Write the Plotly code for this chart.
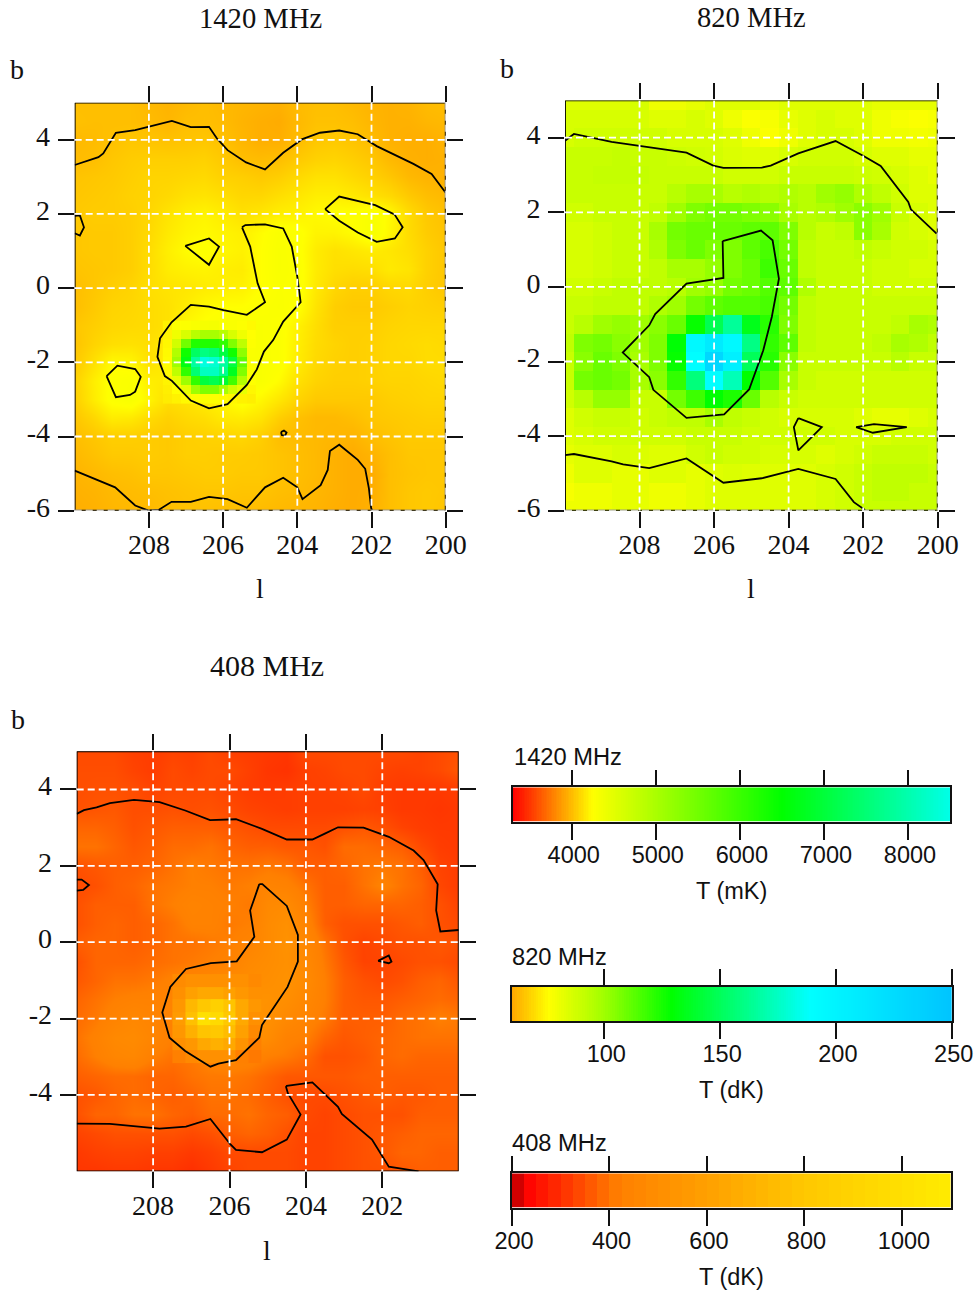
import plotly.graph_objects as go

W, H = 978, 1294
SERIF = "Liberation Serif"
SANS = "Liberation Sans"
INK = "#111111"

# ---------- sky grid ----------
l_half = [210 - 0.5 * i for i in range(21)]
b_half = [5 - 0.5 * j for j in range(23)]

# ---------- 1420 MHz, mK ----------
t1420 = [
 [4010,4010,4010,4010,3990,3970,3990,4010,3990,3980,3970,3960,4000,4010,4010,3990,3970,3960,3970,4000,4010],
 [4020,4010,4010,4010,4000,3980,4010,4010,4000,3970,3950,3940,3990,4020,4020,4010,3980,3960,3960,3980,3990],
 [3990,4000,4020,4040,4030,4020,4030,4040,4020,3980,3950,3950,4000,4040,4050,4030,4000,3960,3950,3950,3970],
 [4000,4010,4040,4060,4070,4070,4070,4080,4050,4010,4000,4010,4050,4080,4090,4070,4040,3990,3960,3950,3960],
 [4030,4040,4050,4070,4090,4090,4100,4110,4080,4070,4050,4070,4110,4140,4140,4110,4080,4040,3990,3970,3960],
 [4040,4050,4060,4080,4090,4110,4140,4150,4130,4100,4100,4130,4160,4190,4190,4170,4140,4110,4050,4010,3990],
 [4050,4060,4060,4070,4100,4150,4190,4210,4180,4140,4160,4190,4200,4230,4250,4260,4300,4230,4120,4050,4020],
 [4040,4050,4050,4070,4110,4170,4210,4230,4210,4190,4240,4290,4270,4210,4210,4240,4320,4220,4120,4060,4030],
 [4040,4050,4050,4070,4120,4190,4240,4270,4220,4200,4250,4300,4270,4180,4140,4160,4180,4160,4130,4080,4040],
 [4030,4040,4050,4070,4120,4180,4200,4210,4190,4180,4250,4300,4280,4180,4130,4120,4130,4170,4150,4080,4040],
 [4010,4040,4070,4090,4130,4150,4160,4180,4190,4200,4250,4290,4280,4170,4100,4070,4070,4100,4110,4070,4040],
 [4010,4050,4090,4100,4120,4140,4180,4230,4250,4250,4280,4300,4260,4150,4070,4050,4050,4070,4090,4080,4070],
 [4040,4070,4100,4110,4120,4140,4230,4260,4280,4300,4300,4280,4200,4130,4070,4070,4070,4090,4100,4100,4100],
 [4030,4090,4130,4140,4130,4180,4220,4260,4300,4300,4300,4280,4190,4120,4090,4070,4080,4100,4110,4120,4110],
 [4050,4140,4230,4220,4140,4180,4230,4300,4300,4300,4300,4280,4180,4110,4080,4070,4080,4100,4100,4120,4120],
 [4080,4190,4270,4290,4190,4170,4210,4250,4300,4300,4300,4240,4140,4090,4070,4070,4080,4090,4090,4100,4110],
 [4070,4180,4270,4300,4210,4130,4150,4190,4220,4280,4220,4160,4090,4050,4050,4050,4050,4070,4080,4090,4090],
 [4040,4100,4180,4170,4120,4080,4110,4130,4170,4180,4150,4070,4020,3990,3990,4010,4040,4050,4060,4070,4070],
 [4010,4040,4070,4070,4060,4050,4070,4080,4090,4100,4070,4010,4000,3990,3980,3970,4010,4030,4050,4050,4050],
 [3990,4020,4050,4050,4060,4050,4070,4070,4060,4060,4050,4030,4010,3990,3960,3940,3970,4010,4040,4040,4040],
 [3970,3990,4010,4020,4040,4040,4050,4060,4060,4050,4050,4030,4010,3990,3960,3940,3940,4010,4030,4040,4040],
 [3960,3970,3990,4000,4010,4020,4030,4040,4040,4030,4030,4010,4000,3980,3960,3940,3950,4010,4040,4050,4040],
 [3950,3960,3980,3990,3990,4010,4020,4020,4010,4010,4000,3990,3980,3970,3950,3940,3960,4010,4040,4050,4030],
]
# finer cells around the 1420 MHz source
l1420_src = [207.5,207.25,207.0,206.75,206.5,206.25,206.0,205.75,205.5,205.25]
b1420_src = [-1.0,-1.25,-1.5,-1.75,-2.0,-2.25,-2.5,-2.75,-3.0]
t1420_src = [
 [4200,4260,4280,4300,4330,4340,4300,4290,4270,4230],
 [4210,4380,4590,4880,5020,5020,4880,4590,4380,4250],
 [4220,4660,5500,6220,6220,6220,6080,5370,4820,4270],
 [4230,4940,6360,7330,7600,7470,7050,6360,5240,4290],
 [4240,5100,6640,7880,8430,8300,7880,7050,5640,4300],
 [4230,4820,6080,7470,8160,8160,7740,6780,5370,4280],
 [4210,4450,5100,6080,7050,7190,6910,5930,4940,4260],
 [4190,4250,4450,5100,5370,5370,5020,4660,4450,4220],
 [4180,4200,4230,4250,4270,4270,4240,4220,4200,4190],
]

# ---------- 820 MHz, dK ----------
t820 = [
 [84,84,84,84,86,80,80,82,84,84,84,82,84,84,84,84,84,82,82,82,82],
 [86,86,86,86,86,84,84,86,84,80,77,78,82,84,86,84,84,80,78,77,78],
 [86,88,88,88,88,88,86,86,86,84,80,77,80,84,86,86,84,80,80,79,80],
 [90,90,90,91,90,90,89,88,87,85,84,84,86,88,88,88,86,84,84,82,82],
 [90,90,91,91,91,90,90,90,90,88,88,88,90,90,90,90,89,88,86,84,82],
 [90,90,90,90,90,90,94,98,98,94,96,94,96,94,100,102,96,92,88,84,84],
 [88,88,90,90,90,92,100,106,108,108,106,104,98,94,96,100,104,100,90,86,84],
 [86,86,88,90,90,98,108,110,110,110,112,112,106,94,90,92,104,98,88,86,84],
 [86,86,88,90,90,96,106,110,106,106,112,116,108,92,90,90,92,90,88,88,86],
 [86,86,88,90,90,92,98,98,102,106,110,118,110,92,90,90,90,88,88,86,86],
 [88,88,90,92,92,92,94,100,102,108,110,114,112,96,90,90,90,88,88,88,88],
 [90,90,92,92,92,96,100,108,112,114,114,116,108,92,90,90,90,90,90,90,90],
 [90,94,100,102,100,104,110,128,148,165,135,122,106,92,90,90,90,90,92,98,96],
 [92,106,108,104,100,106,130,195,210,195,160,120,112,92,90,90,90,92,98,96,92],
 [90,104,110,106,98,106,128,190,230,205,150,122,104,90,90,90,90,90,94,90,90],
 [90,108,110,108,98,104,120,158,190,172,129,114,98,90,88,88,88,88,88,88,88],
 [88,94,102,102,90,90,108,118,129,124,110,94,90,88,88,88,88,88,88,88,88],
 [84,88,90,90,88,90,92,92,98,92,90,88,86,86,86,86,84,82,82,84,86],
 [84,86,88,88,88,88,88,90,90,90,88,88,88,88,88,86,86,86,88,88,88],
 [82,84,84,86,85,84,84,88,90,88,88,86,86,86,84,86,88,90,90,90,88],
 [80,84,84,82,82,84,84,82,84,85,84,84,84,84,86,88,90,92,92,92,90],
 [78,80,80,82,82,80,80,82,84,84,84,84,84,84,86,88,90,92,92,90,90],
 [80,80,80,82,82,80,80,82,84,84,84,84,84,84,86,88,90,90,90,90,90],
]

# ---------- 408 MHz, dK ----------
t408 = [
 [340,340,340,325,320,330,325,340,325,320,315,310,340,340,340,340,340,340,330,340,350],
 [345,345,345,330,320,340,330,340,340,325,310,305,325,330,340,340,330,325,330,340,360],
 [345,350,350,345,330,340,340,340,330,320,315,320,325,325,330,340,320,315,315,315,320],
 [350,355,360,345,345,350,345,350,340,330,325,320,325,325,325,330,325,315,315,310,315],
 [380,380,370,350,360,370,370,370,360,350,340,340,340,340,350,360,350,330,320,315,315],
 [400,400,380,360,370,390,390,400,380,370,370,360,360,350,390,390,380,370,340,320,315],
 [350,360,370,370,380,400,420,410,400,400,410,400,370,370,380,400,410,400,370,330,320],
 [340,350,370,380,400,410,420,420,410,420,440,430,400,370,370,400,430,400,380,335,320],
 [350,370,370,370,400,420,440,430,420,410,470,480,420,370,370,380,380,380,370,350,330],
 [350,370,380,370,380,400,430,430,410,420,480,510,440,370,350,350,350,360,370,350,340],
 [370,380,380,370,380,400,400,410,420,440,480,520,460,400,350,330,340,350,350,360,350],
 [350,380,380,380,390,400,410,420,430,470,490,510,470,410,360,330,330,340,350,350,340],
 [360,380,400,400,410,430,440,460,480,490,500,520,480,420,370,350,340,350,370,380,360],
 [380,400,420,430,430,440,460,500,520,520,520,500,460,420,370,360,360,370,380,390,380],
 [390,410,440,460,440,430,480,520,540,540,510,470,440,410,370,370,370,390,400,420,410],
 [400,430,470,480,450,420,460,510,520,520,490,430,420,380,360,370,380,390,400,400,400],
 [390,420,450,460,420,400,410,440,450,440,420,410,390,350,350,360,380,390,380,380,380],
 [370,380,390,390,380,380,400,410,410,400,380,360,360,360,360,370,370,370,370,370,370],
 [350,360,380,390,380,370,380,400,400,390,370,350,340,340,350,360,370,360,360,370,370],
 [350,380,380,400,400,380,370,390,390,400,380,370,340,330,340,350,350,350,370,370,370],
 [330,340,350,350,350,350,340,350,370,380,370,350,330,330,340,350,360,370,380,380,380],
 [315,325,330,330,325,325,315,325,340,340,340,340,330,330,340,350,360,380,380,370,370],
 [310,310,315,315,310,310,300,315,330,340,340,340,330,330,340,350,350,360,370,370,370],
]
l408_src = [207.33,207.0,206.67,206.33,206.0,205.67,205.33]
b408_src = [-1.0,-1.33,-1.67,-2.0,-2.33,-2.67,-3.0]
t408_src = [
 [480,510,510,510,510,510,470],
 [510,600,640,640,600,550,510],
 [550,720,800,870,780,640,550],
 [570,760,1000,950,800,640,510],
 [550,680,780,800,740,600,470],
 [510,550,640,680,640,530,420],
 [420,470,510,510,510,420,410],
]

# ---------- contours: (l, b) ----------
c1420 = [
 ([210,209.36,209.23,208.89,208.37,207.38,206.87,206.38,206.17,205.88,205.38,204.87,204.38,203.88,203.39,202.87,202.37,201.86,200.87,200.38,200],
  [3.32,3.53,3.63,4.19,4.26,4.51,4.34,4.35,4.04,3.72,3.39,3.20,3.65,4.01,4.19,4.25,4.15,3.83,3.35,3.08,2.57]),
 ([210,209.86,209.75,209.86,210],[1.95,1.96,1.64,1.42,1.48]),
 ([203.25,202.87,201.90,201.38,201.16,201.37,201.86,202.37,202.87,203.25],
  [2.13,2.47,2.24,1.99,1.64,1.34,1.25,1.50,1.82,2.13]),
 ([207.02,206.38,206.11,206.38,207.02],[1.14,1.34,1.12,0.63,1.14]),
 ([205.49,205.40,204.87,204.38,204.15,204.00,203.91,204.38,204.65,204.90,205.09,205.36,205.88,206.38,206.87,207.38,207.57,207.77,207.70,207.39,206.87,206.38,205.99,205.36,204.87,205.07,205.27,205.49],
  [1.64,1.70,1.72,1.61,1.12,0.31,-0.38,-0.90,-1.40,-1.71,-2.19,-2.61,-3.13,-3.24,-3.03,-2.50,-2.37,-1.85,-1.35,-0.92,-0.45,-0.50,-0.59,-0.72,-0.38,0.13,1.12,1.64]),
 ([209.14,208.85,208.37,208.22,208.37,208.51,208.89,209.14],[-2.37,-2.09,-2.18,-2.39,-2.79,-2.88,-2.94,-2.37]),
 ([204.44,204.36,204.29,204.33,204.42,204.44],[-3.88,-3.84,-3.89,-3.98,-3.96,-3.88]),
 ([210,208.91,208.37,208.01,207.74,207.39,206.87,206.38,205.88,205.36,204.87,204.38,204.00,203.86,203.37,203.18,203.12,202.87,202.37,202.17,202.07,202.01,201.98],
  [-4.92,-5.37,-5.86,-6,-5.98,-5.76,-5.76,-5.63,-5.69,-5.92,-5.37,-5.11,-5.37,-5.69,-5.31,-4.90,-4.39,-4.22,-4.63,-4.87,-5.40,-5.93,-6]),
]
c820 = [
 ([210,209.76,208.75,207.74,206.74,206.02,205.75,204.72,204.48,203.74,202.74,201.99,201.53,200.79,200.72,200.03],
  [3.92,4.10,3.89,3.74,3.60,3.25,3.19,3.20,3.25,3.58,3.91,3.51,3.24,2.28,2.08,1.43]),
 ([205.77,204.74,204.43,204.26,204.45,204.68,205.06,205.73,206.74,207.63,207.74,208.45,207.74,207.58,206.74,205.75,205.77],
  [1.23,1.51,1.25,0.22,-0.80,-1.70,-2.75,-3.42,-3.51,-2.76,-2.42,-1.76,-1.03,-0.73,0.09,0.24,1.23]),
 ([203.74,203.11,203.74,203.86,203.74],[-3.52,-3.76,-4.38,-3.76,-3.52]),
 ([202.19,201.71,200.83,201.74,202.19],[-3.76,-3.68,-3.76,-3.91,-3.76]),
 ([210,209.76,208.75,208.44,207.74,206.74,205.75,204.72,203.74,202.74,202.25,201.95],
  [-4.51,-4.48,-4.68,-4.76,-4.86,-4.60,-5.25,-5.13,-4.88,-5.15,-5.77,-5.98]),
]
c408 = [
 ([210,209.81,209.48,209.13,208.50,207.83,207.16,206.51,205.83,205.15,204.50,203.83,203.49,203.16,202.49,201.83,201.18,200.92,200.55,200.59,200.48,200],
  [3.36,3.46,3.53,3.64,3.73,3.67,3.45,3.20,3.22,2.97,2.69,2.69,2.85,3.01,3.00,2.76,2.40,2.15,1.52,0.83,0.28,0.32]),
 ([210,209.87,209.68,209.83,210],[1.64,1.64,1.50,1.37,1.35]),
 ([205.22,205.14,204.50,204.21,204.21,204.48,205.15,205.22,205.83,206.29,206.50,207.16,207.57,207.76,207.55,207.14,206.49,205.81,205.35,205.46,205.22],
  [1.52,1.52,0.95,0.19,-0.51,-1.17,-2.17,-2.50,-3.09,-3.18,-3.26,-2.85,-2.50,-1.84,-1.17,-0.70,-0.55,-0.50,0.14,0.83,1.52]),
 ([202.11,201.83,201.76,201.83,202.11],[-0.49,-0.35,-0.51,-0.55,-0.49]),
 ([210,209.13,207.83,207.14,206.50,205.98,205.83,205.15,204.50,204.14,204.47,204.52,204.50,203.83,203.16,203.06,202.27,201.83,201.05],
  [-4.75,-4.76,-4.88,-4.83,-4.63,-5.29,-5.44,-5.50,-5.17,-4.51,-3.96,-3.79,-3.76,-3.67,-4.31,-4.50,-5.17,-5.88,-6]),
]

# ---------- ticks ----------
l_ticks_full = [208,206,204,202,200]
b_ticks_full = [4,2,0,-2,-4,-6]
b_text_full = ["4","2","0","-2","-4","-6"]
l_ticks_408 = [208,206,204,202]
b_ticks_408 = [4,2,0,-2,-4]
b_text_408 = ["4","2","0","-2","-4"]

# ---------- colour scales ----------
stops_1420 = [(3300,"#ff0000"),(4250,"#ffff00"),(6500,"#00ff00"),(8500,"#00ffe8")]
stops_820 = [(60,"#ffa500"),(76,"#ffff00"),(100,"#a0ff00"),(129,"#00ff00"),(189,"#00ffff"),(250,"#00c4ff")]
stops_408 = [(200,"#b00000"),(230,"#ff0000"),(420,"#ff8000"),(600,"#ffa000"),(800,"#ffc800"),(1000,"#ffe000"),(1100,"#ffec00")]

bar_ticks_1420 = [4000,5000,6000,7000,8000]
bar_ticks_820 = [100,150,200,250]
bar_ticks_408 = [200,400,600,800,1000]
bar_z_1420 = list(range(3300,8520,20))
bar_z_820 = list(range(60,251,1))
bar_z_408 = list(range(212,1112,25))


def cscale(stops):
    a, b = stops[0][0], stops[-1][0]
    return [[(v - a) / (b - a), c] for v, c in stops]


def dom_x(p0, p1):
    return [p0 / W, p1 / W]


def dom_y(p0, p1):
    return [1 - p1 / H, 1 - p0 / H]


fig = go.Figure()
layout = {}
TICK = dict(ticks="outside", ticklen=16, tickwidth=1.5, tickcolor=INK, showgrid=False,
            zeroline=False, automargin=False)
WHITE_DASH = dict(color="white", width=1.8, dash="7px,4px")


def add_panel(n, px, py, z, scale, contours, lt, bt, btxt, smooth=None, patch=None):
    sx = "" if n == 1 else str(n)
    xa, ya = "x" + sx, "y" + sx
    a, b_ = scale[0][0], scale[-1][0]
    hm = dict(xaxis=xa, yaxis=ya, zmin=a, zmax=b_, colorscale=cscale(scale), showscale=False, hoverinfo="skip")
    fig.add_trace(go.Heatmap(x=l_half, y=b_half, z=z, zsmooth=smooth or False, **hm))
    if patch:
        fig.add_trace(go.Heatmap(x=patch[0], y=patch[1], z=patch[2], **hm))
    for cl, cb in contours:
        fig.add_trace(go.Scatter(x=cl, y=cb, mode="lines", xaxis=xa, yaxis=ya, showlegend=False, hoverinfo="skip",
                                 line=dict(color="black", width=1.8)))
    # frame
    fig.add_trace(go.Scatter(x=[210,200,200,210,210], y=[5,5,-6,-6,5], mode="lines", xaxis=xa, yaxis=ya, cliponaxis=False,
                             showlegend=False, hoverinfo="skip", line=dict(color="black", width=1.8)))
    # dashed white graticule, over the contours
    for v in lt:
        fig.add_trace(go.Scatter(x=[v, v], y=[5, -6], mode="lines", xaxis=xa, yaxis=ya, cliponaxis=False, showlegend=False,
                                 hoverinfo="skip", line=WHITE_DASH))
    for v in bt:
        fig.add_trace(go.Scatter(x=[210, 200], y=[v, v], mode="lines", xaxis=xa, yaxis=ya, cliponaxis=False, showlegend=False,
                                 hoverinfo="skip", line=WHITE_DASH))
    layout["xaxis" + sx] = dict(domain=dom_x(*px), range=[210, 200], anchor=ya, tickmode="array", tickvals=lt,
                                ticktext=[str(v) for v in lt], mirror="ticks", showline=False, ticklabelstandoff=-7,
                                tickfont=dict(family=SERIF, size=28, color=INK), **TICK)
    layout["yaxis" + sx] = dict(domain=dom_y(*py), range=[-6, 5], anchor=xa, tickmode="array", tickvals=bt,
                                ticktext=btxt, mirror="ticks", showline=False, ticklabelstandoff=2, ticklabelshift=-4,
                                tickfont=dict(family=SERIF, size=28, color=INK), **TICK)


def add_bar(n, px, py, zvals, scale, ticks, rng):
    sx = str(n)
    xa, ya = "x" + sx, "y" + sx
    fig.add_trace(go.Heatmap(x=zvals, y=[0], z=[zvals], xaxis=xa, yaxis=ya, zmin=scale[0][0], zmax=scale[-1][0],
                             colorscale=cscale(scale), showscale=False, hoverinfo="skip"))
    layout["xaxis" + sx] = dict(domain=dom_x(*px), range=rng, anchor=ya, tickmode="array", tickvals=ticks,
                                ticktext=[str(v) for v in ticks], mirror="ticks", showline=True, linecolor=INK, linewidth=1.6,
                                ticklabelstandoff=-5, ticklabelshift=2,
                                tickfont=dict(family=SANS, size=23.5, color=INK), **TICK)
    layout["yaxis" + sx] = dict(domain=dom_y(*py), range=[-0.5, 0.5], anchor=xa, showticklabels=False, ticks="", automargin=False,
                                showgrid=False, zeroline=False, mirror=True, showline=True, linecolor=INK, linewidth=1.6)


add_panel(1, (74.7, 445.7), (102.7, 510.7), t1420, stops_1420, c1420, l_ticks_full, b_ticks_full, b_text_full,
          smooth="best", patch=(l1420_src, b1420_src, t1420_src))
add_panel(2, (565, 937.7), (100.4, 510.7), t820, stops_820, c820, l_ticks_full, b_ticks_full, b_text_full)
add_panel(3, (76.7, 458.7), (751.3, 1171.3), t408, stops_408, c408, l_ticks_408, b_ticks_408, b_text_408,
          smooth="best", patch=(l408_src, b408_src, t408_src))
add_bar(4, (512.7, 950), (787.3, 821.7), bar_z_1420, stops_1420, bar_ticks_1420, [3298, 8500])
add_bar(5, (511.7, 951.7), (987, 1021), bar_z_820, stops_820, bar_ticks_820, [60, 250])
add_bar(6, (512, 950.7), (1173.3, 1207.7), bar_z_408, stops_408, bar_ticks_408, [200, 1100])


def text(t, x, y, family=SERIF, size=28, anchor="center"):
    return dict(text=t, x=x / W, y=1 - y / H, xref="paper", yref="paper", xanchor=anchor, yanchor="middle",
                showarrow=False, font=dict(family=family, size=size, color=INK))


annotations = [
    text("1420 MHz", 260, 19, SERIF, 28.6), text("820 MHz", 751, 17, SERIF, 28.6), text("408 MHz", 267, 665, SERIF, 30),
    text("b", 17, 70), text("b", 507, 68), text("b", 18, 719),
    text("l", 260, 588), text("l", 751, 588), text("l", 267, 1250),
    text("1420 MHz", 512, 757, SANS, 23.7, "left"), text("820 MHz", 510, 957, SANS, 23.7, "left"),
    text("408 MHz", 510, 1143, SANS, 23.7, "left"),
    text("T (mK)", 731, 891, SANS, 23.5), text("T (dK)", 731, 1090, SANS, 23.5), text("T (dK)", 731, 1277, SANS, 23.5),
]

fig.update_layout(width=W, height=H, margin=dict(l=0, r=0, t=0, b=0), paper_bgcolor="white", plot_bgcolor="white",
                  showlegend=False, annotations=annotations, **layout)
fig.write_html("out.html", config={"displayModeBar": False},
               post_script="document.body.style.margin='0';document.documentElement.style.overflow='hidden';")
